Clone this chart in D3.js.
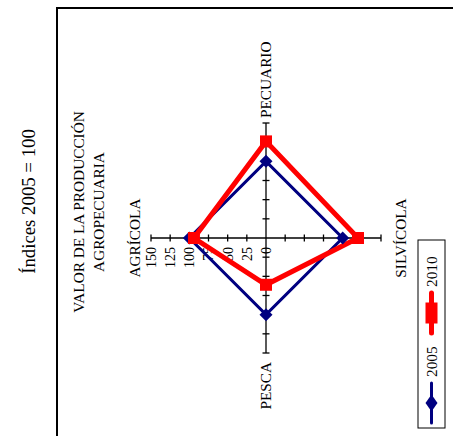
<!DOCTYPE html>
<html><head><meta charset="utf-8">
<script src="https://cdn.jsdelivr.net/npm/d3@7"></script>
<style>html,body{margin:0;padding:0;background:#fff;}svg{display:block;}</style>
</head><body>
<script>
const categories = ["AGRÍCOLA", "PECUARIO", "SILVÍCOLA", "PESCA"];
const seriesNames = ["2005", "2010"];
const values2005 = [100, 100, 100, 100];
const values2010 = [94, 126, 120, 61];
const tickValues = [0, 25, 50, 75, 100, 125, 150];
const titleText = "Índices 2005 = 100";
const chartTitle = ["VALOR DE LA PRODUCCIÓN", "AGROPECUARIA"];

const W = 453, H = 436;
const font = "'Liberation Serif', 'Times New Roman', serif";
const svg = d3.select("body").append("svg").attr("width", W).attr("height", H);
const g = svg.append("g").attr("transform", `translate(0,${H}) rotate(-90)`);

// border
g.append("rect").attr("x", -20).attr("y", 57).attr("width", 448).attr("height", 420)
  .attr("fill", "none").attr("stroke", "#000").attr("stroke-width", 2);

// title
g.append("text").attr("x", 234.5).attr("y", 35).attr("text-anchor", "middle")
  .attr("font-family", font).attr("font-size", 18.8).text(titleText);
g.selectAll("text.ct").data(chartTitle).join("text").attr("class", "ct")
  .attr("x", 224).attr("y", (d, i) => 84 + i * 20).attr("text-anchor", "middle")
  .attr("font-family", font).attr("font-size", 15.3).text(d => d);

const cx = 198, cy = 266;
const r = d3.scaleLinear().domain([0, 150]).range([0, 115]);
const ang = d3.scaleLinear().domain([0, categories.length]).range([0, 2 * Math.PI]);
const pt = (i, v) => [cx + r(v) * Math.sin(ang(i)), cy - r(v) * Math.cos(ang(i))];

// axes
categories.forEach((c, i) => {
  const a = ang(i);
  const [x2, y2] = pt(i, 150);
  g.append("line").attr("x1", cx).attr("y1", cy).attr("x2", x2).attr("y2", y2)
    .attr("stroke", "#000").attr("stroke-width", 1.3);
  tickValues.filter(t => t > 0).forEach(t => {
    const [px, py] = pt(i, t);
    const dx = Math.cos(a) * 3.5, dy = Math.sin(a) * 3.5;
    g.append("line").attr("x1", px - dx).attr("y1", py - dy).attr("x2", px + dx).attr("y2", py + dy)
      .attr("stroke", "#000").attr("stroke-width", 1.3);
  });
});

// tick labels on first axis
g.selectAll("text.tl").data(tickValues).join("text").attr("class", "tl")
  .attr("x", cx - 9).attr("y", d => pt(0, d)[1]).attr("dy", "0.35em")
  .attr("text-anchor", "end").attr("font-family", font).attr("font-size", 14).text(d => d);

// category labels
const labelPos = [
  {x: cx, y: 140, anchor: "middle"},
  {x: 318, y: 271, anchor: "start"},
  {x: cx, y: 406, anchor: "middle"},
  {x: 74, y: 271, anchor: "end"}
];
g.selectAll("text.cat").data(categories).join("text").attr("class", "cat")
  .attr("x", (d, i) => labelPos[i].x).attr("y", (d, i) => labelPos[i].y)
  .attr("text-anchor", (d, i) => labelPos[i].anchor)
  .attr("font-family", font).attr("font-size", 15.3).text(d => d);

// series
const line = d3.line().curve(d3.curveLinearClosed);
const series = [
  {name: seriesNames[0], values: values2005, color: "#000080", width: 3},
  {name: seriesNames[1], values: values2010, color: "#ff0000", width: 5}
];
series.forEach(s => {
  g.append("path").attr("d", line(s.values.map((v, i) => pt(i, v))))
    .attr("fill", "none").attr("stroke", s.color).attr("stroke-width", s.width)
    .attr("stroke-linejoin", "miter");
});
// markers
g.selectAll("path.m05").data(values2005).join("path").attr("class", "m05")
  .attr("d", (v, i) => { const [x, y] = pt(i, v); return `M${x},${y - 6.5}L${x + 6.5},${y}L${x},${y + 6.5}L${x - 6.5},${y}Z`; })
  .attr("fill", "#000080");
g.selectAll("rect.m10").data(values2010).join("rect").attr("class", "m10")
  .attr("x", (v, i) => pt(i, v)[0] - 6).attr("y", (v, i) => pt(i, v)[1] - 6)
  .attr("width", 12).attr("height", 12).attr("fill", "#ff0000");

// legend
const lg = g.append("g");
lg.append("rect").attr("x", 8).attr("y", 418).attr("width", 188).attr("height", 27)
  .attr("fill", "#fff").attr("stroke", "#000").attr("stroke-width", 1);
const ly = 431.5;
const legItems = [{x0: 13, s: series[0]}, {x0: 103, s: series[1]}];
legItems.forEach(({x0, s}, k) => {
  lg.append("line").attr("x1", x0).attr("y1", ly).attr("x2", x0 + 40).attr("y2", ly)
    .attr("stroke", s.color).attr("stroke-width", s.width).attr("stroke-linecap", "round");
  const mx = x0 + 20;
  if (k === 0) {
    lg.append("path").attr("d", `M${mx - 8.5},${ly}L${mx},${ly - 6}L${mx + 8.5},${ly}L${mx},${ly + 6}Z`).attr("fill", s.color);
  } else {
    lg.append("rect").attr("x", mx - 10.5).attr("y", ly - 6).attr("width", 21).attr("height", 12).attr("fill", s.color);
  }
  lg.append("text").attr("x", x0 + 46).attr("y", 437).attr("font-family", font)
    .attr("font-size", 15.3).text(s.name);
});
</script>
</body></html>
